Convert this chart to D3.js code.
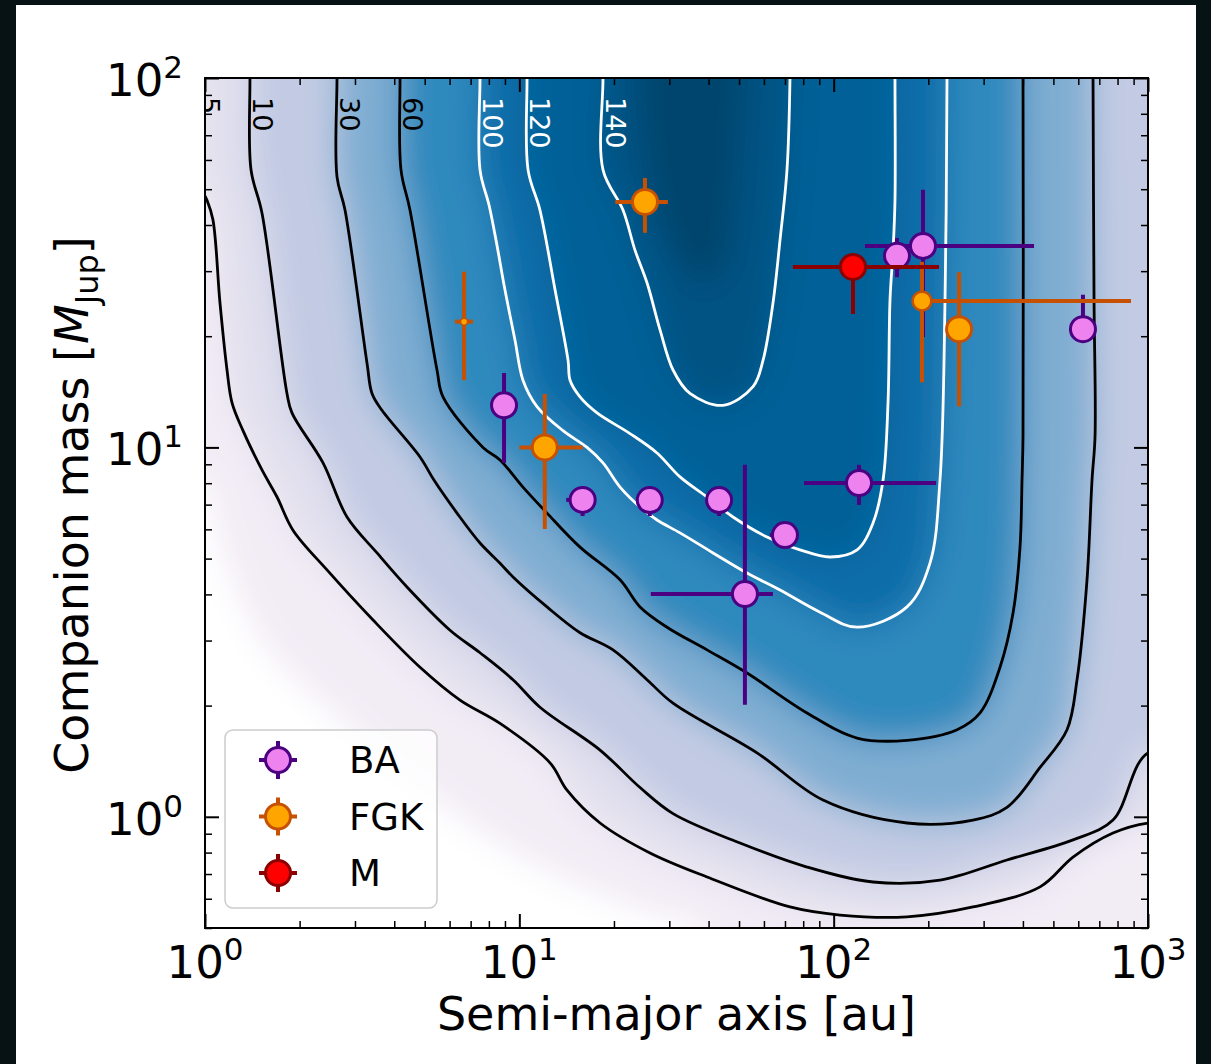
<!DOCTYPE html>
<html>
<head>
<meta charset="utf-8">
<script src="https://cdn.jsdelivr.net/npm/d3@7"></script>
<style>
  html, body { margin: 0; padding: 0; background: #071215; }
  svg { display: block; }
  text { font-family: "DejaVu Sans", sans-serif; }
</style>
</head>
<body>
<div id="chart"></div>
<script>
// ---- 1) DATA (read off the figure) ----
// Contour levels of the detection map; 1 and 150 only shape the fill.
const contourLevels  = [1, 5, 10, 30, 60, 100, 120, 140, 150];
const labelledLevels = [5, 10, 30, 60, 100, 120, 140];
// position of each level on the PuBu colour ramp (0..1)
const levelTone = [0.03, 0.13, 0.2, 0.38, 0.56, 0.74, 0.8, 0.87, 0.92];
const peakTone = 0.95;

// Each contour as [semi-major axis (au), mass (MJup)] pairs
const contour1 = [[1.0, 8.16], [1.06, 6.64], [1.228, 4.38], [1.575, 2.88], [2.554, 1.91],
  [5.31, 1.13], [11.05, 0.75], [26.0, 0.549], [37.6, 0.5]];
const contour5 = [[0.943, 100], [0.945, 56], [0.975, 50], [1.015, 46.7], [1.06, 41.3],
  [1.116, 24.6], [1.175, 16.2], [1.219, 13.2], [1.321, 11.1], [1.518, 8.69], [1.695, 7.34],
  [1.905, 5.97], [2.444, 4.66], [3.424, 3.41], [4.831, 2.54], [6.475, 2.07], [8.681, 1.79],
  [12.52, 1.40], [14.18, 1.18], [18.06, 0.962], [26.04, 0.798], [39.55, 0.687], [72.62, 0.570],
  [104.8, 0.542], [171.1, 0.536], [277.5, 0.570], [453.5, 0.646], [577.4, 0.778],
  [773.8, 0.904], [1000, 0.962]];
const contour10 = [[1.390, 100], [1.401, 56.4], [1.518, 43.1], [1.823, 14.0], [1.891, 12.4],
  [2.374, 9.08], [2.83, 6.48], [3.526, 5.18], [4.391, 4.19], [6.018, 3.2], [7.497, 2.78],
  [9.548, 2.35], [11.63, 1.98], [18.06, 1.516], [24.21, 1.2], [30.83, 1.02], [50.36, 0.849],
  [82.27, 0.731], [133.4, 0.666], [217.9, 0.674], [355.9, 0.764], [577.4, 0.866],
  [773.8, 0.98], [1000, 1.49]];
const contour30 = [[2.63, 100], [2.63, 54.0], [2.789, 43.9], [3.277, 16.9], [3.399, 14.0],
  [3.657, 12.6], [4.831, 9.42], [5.35, 8.16], [6.335, 6.64], [7.497, 5.51], [8.681, 4.86],
  [9.548, 4.46], [12.25, 3.7], [15.6, 3.15], [19.86, 2.83], [25.48, 2.35], [30.83, 2.03],
  [57.03, 1.49], [92.5, 1.11], [171.1, 0.962], [277.5, 0.98], [355.9, 1.06], [453.5, 1.36],
  [552.5, 1.72], [594.6, 2.35], [639.7, 4.38], [663.6, 8.16], [678.4, 10.7], [673.5, 25.1],
  [668.5, 100]];
const contour60 = [[4.173, 100], [4.203, 56.4], [4.489, 43.9], [5.471, 16.2], [5.717, 13.7],
  [7.664, 10.0], [8.681, 9.25], [10.27, 7.81], [12.25, 6.64], [15.6, 5.37], [20.91, 4.38],
  [24.21, 3.7], [29.5, 3.26], [39.55, 2.83], [53.01, 2.45], [82.27, 1.91], [118.7, 1.634],
  [171.1, 1.61], [246.9, 1.72], [292.2, 1.91], [338.2, 2.54], [372.1, 3.56], [391.6, 5.37],
  [397.4, 8.16], [400.3, 10.7], [400.3, 100]];
const contour100 = [[7.497, 100], [7.497, 56.4], [8.008, 45.3], [8.43, 36.4], [9.0, 26.7],
  [9.688, 19.5], [10.27, 15.2], [11.38, 12.9], [13.77, 11.1], [16.42, 10.0], [18.46, 9.08],
  [20.91, 7.81], [24.21, 6.9], [27.42, 6.36], [32.45, 5.87], [41.33, 5.18], [53.01, 4.57],
  [67.5, 4.11], [90.5, 3.58], [118.7, 3.26], [171.1, 3.7], [202.5, 4.86], [217.9, 8.16],
  [226.1, 25.1], [229.4, 100]];
const contour120 = [[10.58, 100], [10.66, 56.4], [11.63, 43.9], [12.99, 26.7], [14.29, 17.2],
  [14.5, 15.2], [15.6, 13.7], [17.67, 12.4], [22.49, 10.9], [27.42, 9.66], [32.45, 8.32],
  [39.55, 7.34], [47.84, 6.48], [61.37, 5.72], [78.16, 5.28], [97.4, 5.05], [118.7, 5.28],
  [133.4, 6.24], [143.6, 8.16], [148.9, 13.2], [151.1, 25.1], [154.5, 34.2], [156.7, 46.7],
  [156.7, 100]];
const contour140 = [[18.46, 100], [18.46, 56.4], [21.37, 43.9], [23.33, 34.2], [25.48, 27.9],
  [28.03, 20.8], [30.83, 16.2], [34.9, 14.0], [44.46, 13.0], [55.39, 14.6], [59.6, 17.2],
  [64.12, 24.6], [67.5, 36.4], [71.04, 56.4], [72.62, 100]];
const contour150 = [[24.21, 100], [25.1, 63.8], [28.03, 41.3], [33.65, 30.2], [39.55, 27.5],
  [45.1, 31.2], [48.5, 46.7], [50.36, 76.9], [51.1, 100]];

const contourLines = [contour1, contour5, contour10, contour30, contour60,
                      contour100, contour120, contour140, contour150];
// corners used to close each "value >= level" region after the line's last point
const regionClose = [["br", "tr", "tl"], ["tr"], ["tr"], [], [], [], [], [], []];

// Companions: [a, mass, aLow, aHigh, massLow, massHigh]  (null = no bar)
const baPoints = [
  [8.94, 13.0, null, null, 9.08, 15.9],
  [15.9, 7.21, 14.1, 17.5, 6.52, 7.7],
  [26.0, 7.2, null, null, 6.52, 7.8],
  [43.2, 7.2, null, null, 6.52, 7.8],
  [70.0, 5.79, 62.7, 77.0, null, null],
  [52.2, 4.01, 26.2, 64.1, 2.01, 8.97],
  [120.4, 8.01, 80.5, 211.7, 6.99, 8.97],
  [159, 33.0, null, null, 28.9, 36.9],
  [192.4, 35.1, 125.8, 433.9, 19.9, 49.8],
  [621, 20.9, null, null, 19.2, 25.9]
];
const fgkPoints = [
  [25.1, 46.2, 20.2, 29.7, 38.1, 53.6],
  [6.67, 21.9, 6.24, 7.12, 15.2, 29.9],
  [12.05, 10.0, 10.0, 15.9, 6.01, 13.95],
  [191, 24.9, null, 883, 15.0, 31.8],
  [250.6, 20.9, null, null, 12.9, 29.8]
];
const fgkRelSize = [1, 0.28, 1, 0.75, 1];
const mPoints = [
  [115.2, 30.8, 74.2, 216.3, 22.97, 33.5]
];

const legendLabels = ["BA", "FGK", "M"];
const xTickDecades = [1, 10, 100, 1000];
const yTickDecades = [1, 10, 100];

// ---- 2) LAYOUT ----
const W = 1211, H = 1064;
const L = 205, R = 1148, T = 78, B = 928, PAD = 60;
const outer = { tl: [L - PAD, T - PAD], tr: [R + PAD, T - PAD], br: [R + PAD, B + PAD], bl: [L - PAD, B + PAD] };

const x = d3.scaleLog().domain([1, 1000]).range([L, R]);
const y = d3.scaleLog().domain([0.5, 100]).range([B, T]);

const svg = d3.select('#chart').append('svg').attr('width', W).attr('height', H);
svg.append('rect').attr('x', 16).attr('y', 5).attr('width', 1180).attr('height', H - 5).attr('fill', '#fff');

const defs = svg.append('defs');
defs.append('clipPath').attr('id', 'plotClip')
  .append('rect').attr('x', L).attr('y', T).attr('width', R - L).attr('height', B - T);
defs.append('filter').attr('id', 'soften')
  .attr('filterUnits', 'userSpaceOnUse').attr('x', 0).attr('y', 0).attr('width', W).attr('height', H)
  .append('feGaussianBlur').attr('stdDeviation', 16);

// push edge endpoints outside the frame so fills/lines reach it cleanly
function pushOut(p) {
  if (Math.abs(p[1] - T) < 1) return [p[0], T - PAD];
  if (Math.abs(p[0] - R) < 1) return [R + PAD, p[1]];
  if (Math.abs(p[0] - L) < 1) return [L - PAD, p[1]];
  if (Math.abs(p[1] - B) < 1) return [p[0], B + PAD];
  return p;
}
function toPixels(pts) {
  const px = pts.map(d => [x(d[0]), y(d[1])]);
  return [pushOut(px[0]), ...px, pushOut(px[px.length - 1])];
}
const lineGen = d3.line().curve(d3.curveCatmullRom.alpha(0.5));

function regionPath(pts, corners) {
  return lineGen(toPixels(pts)) + corners.map(c => `L${outer[c][0]},${outer[c][1]}`).join('') + 'Z';
}

// ---- 3) FILLED MAP ----
const fillG = svg.append('g').attr('clip-path', 'url(#plotClip)')
  .append('g').attr('filter', 'url(#soften)');
fillG.append('rect').attr('x', L - PAD).attr('y', T - PAD)
  .attr('width', R - L + 2 * PAD).attr('height', B - T + 2 * PAD).attr('fill', '#ffffff');
contourLines.forEach((pts, i) => {
  const tone = i < levelTone.length - 1 ? (levelTone[i] + levelTone[i + 1]) / 2 : peakTone;
  fillG.append('path').attr('d', regionPath(pts, regionClose[i]))
    .attr('fill', d3.interpolatePuBu(tone));
});

// ---- 4) CONTOUR LINES + LABELS ----
const lineG = svg.append('g').attr('clip-path', 'url(#plotClip)');
contourLines.forEach((pts, i) => {
  const lv = contourLevels[i];
  if (!labelledLevels.includes(lv)) return;
  const col = lv >= 100 ? '#ffffff' : '#000000';
  lineG.append('path')
    .attr('d', lineGen(toPixels(pts)))
    .attr('fill', 'none').attr('stroke', col).attr('stroke-width', 2.8)
    .attr('stroke-linejoin', 'round');
  lineG.append('text')
    .attr('transform', `translate(${x(pts[0][0]) + 3},${T + 19}) rotate(90)`)
    .attr('font-size', 27).attr('fill', col)
    .text(lv);
});

// ---- 5) COMPANIONS ----
function drawSeries(rows, fill, edge, rel) {
  const g = svg.append('g');
  rows.forEach(r => {
    const [a, m, aLo, aHi, mLo, mHi] = r;
    const cx = x(a), cy = y(m);
    if (aLo != null || aHi != null) {
      g.append('line').attr('x1', x(aLo ?? a)).attr('x2', x(aHi ?? a))
        .attr('y1', cy).attr('y2', cy).attr('stroke', edge).attr('stroke-width', 4);
    }
    if (mLo != null || mHi != null) {
      g.append('line').attr('x1', cx).attr('x2', cx)
        .attr('y1', y(mLo ?? m)).attr('y2', y(mHi ?? m)).attr('stroke', edge).attr('stroke-width', 4);
    }
  });
  rows.forEach((r, i) => {
    const s = rel ? rel[i] : 1;
    g.append('circle').attr('cx', x(r[0])).attr('cy', y(r[1]))
      .attr('r', 12.5 * s).attr('fill', fill).attr('stroke', edge)
      .attr('stroke-width', Math.max(1.5, 3 * Math.min(1, s * 1.1)));
  });
}
const styles = [
  { fill: '#ee82ee', edge: '#4b0082' },
  { fill: '#ffa500', edge: '#c65102' },
  { fill: '#ff0000', edge: '#8b0000' }
];
drawSeries(baPoints, styles[0].fill, styles[0].edge);
drawSeries(fgkPoints, styles[1].fill, styles[1].edge, fgkRelSize);
drawSeries(mPoints, styles[2].fill, styles[2].edge);

// ---- 6) FRAME, TICKS, LABELS ----
svg.append('rect').attr('x', L).attr('y', T).attr('width', R - L).attr('height', B - T)
  .attr('fill', 'none').attr('stroke', '#000').attr('stroke-width', 2);

const isDecade = v => Math.abs(Math.log10(v) - Math.round(Math.log10(v))) < 1e-9;
function ticks(axisFn, scale, tx, ty) {
  const all = scale.ticks();
  [[all.filter(v => !isDecade(v)), 7, 1.5], [all.filter(isDecade), 14, 2]].forEach(([vals, len, sw]) => {
    svg.append('g').attr('transform', `translate(${tx},${ty})`)
      .call(axisFn(scale).tickValues(vals).tickSize(-len).tickFormat(() => ''))
      .call(g => g.select('.domain').remove())
      .call(g => g.selectAll('line').attr('stroke', '#000').attr('stroke-width', sw));
  });
}
ticks(d3.axisBottom, x, 0, B);
ticks(d3.axisTop, x, 0, T);
ticks(d3.axisLeft, y, L, 0);
ticks(d3.axisRight, y, R, 0);

function powerLabel(g, v) {
  g.append('tspan').attr('font-size', 45).text('10');
  g.append('tspan').attr('font-size', 31).attr('dy', -18).text(Math.round(Math.log10(v)));
}
xTickDecades.forEach(v => {
  powerLabel(svg.append('text').attr('x', x(v)).attr('y', B + 50).attr('text-anchor', 'middle'), v);
});
yTickDecades.forEach(v => {
  powerLabel(svg.append('text').attr('x', L - 22).attr('y', y(v) + 18).attr('text-anchor', 'end'), v);
});

svg.append('text').attr('x', (L + R) / 2).attr('y', 1030).attr('text-anchor', 'middle')
  .attr('font-size', 46).text('Semi-major axis [au]');

const yl = svg.append('text').attr('transform', 'translate(88,505) rotate(-90)')
  .attr('text-anchor', 'middle').attr('font-size', 46);
yl.append('tspan').text('Companion mass [');
yl.append('tspan').attr('font-style', 'italic').text('M');
yl.append('tspan').attr('font-size', 32).attr('dy', 10).text('Jup');
yl.append('tspan').attr('dy', -10).text(']');

// ---- 7) LEGEND ----
const leg = svg.append('g');
leg.append('rect').attr('x', L + 20).attr('y', B - 198).attr('width', 212).attr('height', 178)
  .attr('rx', 8).attr('fill', '#fff').attr('fill-opacity', 0.8)
  .attr('stroke', '#cccccc').attr('stroke-width', 1.5);
legendLabels.forEach((lab, i) => {
  const cy = B - 168 + i * 56.5, cx = L + 73;
  const st = styles[i];
  leg.append('line').attr('x1', cx - 19).attr('x2', cx + 19).attr('y1', cy).attr('y2', cy)
    .attr('stroke', st.edge).attr('stroke-width', 4);
  leg.append('line').attr('x1', cx).attr('x2', cx).attr('y1', cy - 19).attr('y2', cy + 19)
    .attr('stroke', st.edge).attr('stroke-width', 4);
  leg.append('circle').attr('cx', cx).attr('cy', cy).attr('r', 12.5)
    .attr('fill', st.fill).attr('stroke', st.edge).attr('stroke-width', 3);
  leg.append('text').attr('x', L + 144).attr('y', cy + 13).attr('font-size', 37).text(lab);
});
</script>
</body>
</html>
